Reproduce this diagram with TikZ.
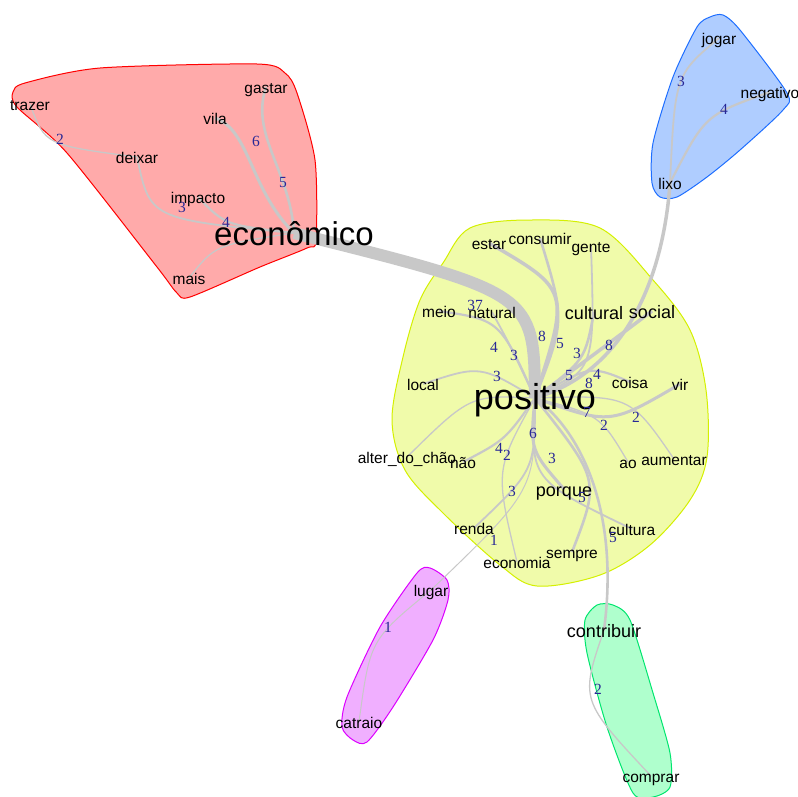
\documentclass[tikz,border=0pt]{standalone}
\usepackage{fontspec}
\setmainfont{Liberation Sans}
\newfontfamily\numfont{Liberation Serif}
\usepackage{tikz}
\usetikzlibrary{calc}
\definecolor{edgegray}{RGB}{200,200,200}
\definecolor{wnum}{RGB}{40,40,150}
\definecolor{hullred}{RGB}{255,170,170}
\definecolor{hullyellow}{RGB}{240,251,170}
\definecolor{lineyellow}{RGB}{212,240,0}
\definecolor{hullblue}{RGB}{175,205,255}
\definecolor{lineblue}{RGB}{30,110,255}
\definecolor{hullviolet}{RGB}{240,175,255}
\definecolor{lineviolet}{RGB}{220,0,255}
\definecolor{hullgreen}{RGB}{175,255,205}
\definecolor{linegreen}{RGB}{0,230,110}
\pgfdeclarelayer{hulls}
\pgfdeclarelayer{edges}
\pgfsetlayers{hulls,edges,main}
\newcommand{\lnk}[4][]{\draw[Edge,#1] (#2.center) .. controls (#4) .. (#3.center)}

\begin{document}
\begin{tikzpicture}[
x=1pt,y=-1pt,
Word/.style={font=\fontsize{15.5}{18}\selectfont,inner sep=0pt,text height=17pt,text depth=3.3pt},
WordMd/.style={font=\fontsize{18}{21}\selectfont,inner sep=0pt,text height=19pt,text depth=3.8pt},
WordBig/.style={font=\fontsize{#1}{#1}\selectfont,inner sep=0pt},
Weight/.style={font=\numfont\fontsize{15.5}{16}\selectfont,text=wnum,inner sep=0pt},
Edge/.style={draw=edgegray,line width=1.3pt},
wt/.style={line width=#1pt},
Hull/.style={line width=1pt}
]
\useasboundingbox (0,0) rectangle (798,796);

% words
\node[Word] (trazer) at (30,104) {trazer};
\node[Word] (deixar) at (137,157) {deixar};
\node[Word] (gastar) at (266,87) {gastar};
\node[Word] (vila) at (215,118) {vila};
\node[Word] (impacto) at (198,197) {impacto};
\node[WordBig=33,text height=32pt,text depth=7pt] (eco) at (294,233) {econômico};
\node[Word] (mais) at (189,278) {mais};

\node[Word] (jogar) at (719,38) {jogar};
\node[Word] (negativo) at (770,92) {negativo};
\node[Word] (lixo) at (670,183) {lixo};

\node[WordBig=36,text height=30pt,text depth=7.6pt] (pos) at (535,398) {positivo};
\node[Word] (estar) at (489,243) {estar};
\node[Word] (consumir) at (540,238) {consumir};
\node[Word] (gente) at (591,246) {gente};
\node[Word] (meio) at (439,311) {meio};
\node[Word] (natural) at (492,312) {natural};
\node[WordMd] (cultural) at (594,312) {cultural};
\node[WordMd] (social) at (652,311) {social};
\node[Word] (local) at (423,384) {local};
\node[Word] (coisa) at (630,382) {coisa};
\node[Word] (vir) at (680,384) {vir};
\node[Word] (alter) at (407,457) {alter\_do\_chão};
\node[Word] (nao) at (463,462) {não};
\node[Word] (ao) at (628,462) {ao};
\node[Word] (aumentar) at (674,459) {aumentar};
\node[WordMd] (porque) at (564,489) {porque};
\node[Word] (renda) at (474,528) {renda};
\node[Word] (cultura) at (632,529) {cultura};
\node[Word] (sempre) at (572,552) {sempre};
\node[Word] (economia) at (517,562) {economia};

\node[Word] (lugar) at (431,590) {lugar};
\node[Word] (catraio) at (359,722) {catraio};
\node[WordMd] (contribuir) at (604,630) {contribuir};
\node[Word] (comprar) at (651,776) {comprar};

% communities
\begin{pgfonlayer}{hulls}
\filldraw[Hull,fill=hullred,draw=red] plot[smooth cycle,tension=0.45] coordinates {(13,92) (25,83) (100,68) (257,64) (285,73) (297,93) (315,160) (316,240) (307,248) (260,267) (190,297) (177,293) (157,267) (67,153) (17,107)};
\filldraw[Hull,fill=hullyellow,draw=lineyellow] plot[smooth cycle,tension=0.55] coordinates {(470,228) (530,220) (600,228) (653,280) (690,330) (706,390) (707,457) (690,500) (650,545) (600,575) (537,586) (500,565) (443,513) (405,470) (392,420) (403,357) (420,300) (443,263)};
\filldraw[Hull,fill=hullblue,draw=lineblue] plot[smooth cycle,tension=0.45] coordinates {(710,17) (723,15) (740,30) (787,93) (783,110) (740,150) (707,177) (677,197) (660,197) (652,183) (653,143) (673,77) (697,27)};
\filldraw[Hull,fill=hullviolet,draw=lineviolet] plot[smooth cycle,tension=0.45] coordinates {(430,568) (447,580) (448,600) (433,640) (393,707) (367,742) (353,740) (342,727) (347,697) (380,627) (417,573)};
\filldraw[Hull,fill=hullgreen,draw=linegreen] plot[smooth cycle,tension=0.45] coordinates {(597,605) (613,605) (630,620) (653,693) (670,753) (670,787) (653,797) (633,793) (607,727) (587,653) (585,620)};
\end{pgfonlayer}

% co-occurrence edges
\begin{pgfonlayer}{edges}
\lnk[wt=1.3]{trazer}{deixar}{45,145};
\lnk[wt=1.8]{deixar}{eco}{150,219};
\lnk[wt=2.2]{impacto}{eco}{225,225};
\lnk[wt=1.3]{mais}{eco}{215,245};
\draw[Edge,wt=2.6] (gastar.center) .. controls (250,135) and (290,170) .. (eco.center);
\draw[Edge,wt=3] (vila.center) .. controls (250,130) and (250,190) .. (eco.center);

\lnk[wt=1.8]{jogar}{lixo}{675,75};
\lnk[wt=2.2]{negativo}{lixo}{705,115};
\draw[Edge,wt=3.5] (lixo.center) .. controls (664,270) and (630,370) .. (pos.center);

\lnk[wt=12]{eco}{pos}{534,293};
\lnk[wt=3.5]{estar}{pos}{570,290};
\lnk[wt=2.6]{consumir}{pos}{565,320};
\lnk[wt=1.8]{gente}{pos}{595,370};
\lnk[wt=2.6]{cultural}{pos}{585,360};
\lnk[wt=3.5]{social}{pos}{600,350};
\lnk[wt=2.2]{coisa}{pos}{590,365};
\lnk[wt=3]{vir}{pos}{610,425};
\lnk[wt=1.3]{ao}{pos}{600,415};
\lnk[wt=1.3]{aumentar}{pos}{630,395};
\lnk[wt=3]{porque}{pos}{530,450};
\lnk[wt=1.8]{cultura}{pos}{530,480};
\lnk[wt=2.6]{sempre}{pos}{600,480};
\draw[Edge,wt=2.6] (pos.center) .. controls (580,430) and (620,510) .. (contribuir.center);
\lnk[wt=1.8]{renda}{pos}{535,470};
\lnk[wt=1]{lugar}{pos}{535,490};
\lnk[wt=1.3]{economia}{pos}{495,470};
\lnk[wt=2.2]{nao}{pos}{505,440};
\lnk[wt=1.3]{alter}{pos}{470,395};
\lnk[wt=1.8]{local}{pos}{480,365};
\lnk[wt=2.2]{meio}{pos}{500,320};
\lnk[wt=1.8]{natural}{pos}{510,345};

\lnk[wt=1]{lugar}{catraio}{370,640};
\lnk[wt=1.3]{contribuir}{comprar}{580,700};
\end{pgfonlayer}

% edge weights
\node[Weight] (w-trazer) at (60,139) {2};
\node[Weight] (w-vila) at (256,141) {6};
\node[Weight] (w-gastar) at (283,182) {5};
\node[Weight] (w-deixar) at (182,207) {3};
\node[Weight] (w-impacto) at (226,222) {4};
\node[Weight] (w-jogar) at (681,81) {3};
\node[Weight] (w-negativo) at (724,109) {4};
\node[Weight] (w-eco) at (475,305) {37};
\node[Weight] (w-estar) at (542,336) {8};
\node[Weight] (w-consumir) at (560,343) {5};
\node[Weight] (w-gente) at (577,353) {3};
\node[Weight] (w-social) at (609,345) {8};
\node[Weight] (w-cultural) at (569,375) {5};
\node[Weight] (w-coisa) at (597,374) {4};
\node[Weight] (w-lixo) at (589,383) {8};
\node[Weight] (w-vir) at (587,412) {7};
\node[Weight] (w-ao) at (604,425) {2};
\node[Weight] (w-aumentar) at (636,417) {2};
\node[Weight] (w-meio) at (494,347) {4};
\node[Weight] (w-natural) at (514,355) {3};
\node[Weight] (w-local) at (497,376) {3};
\node[Weight] (w-porque) at (533,433) {6};
\node[Weight] (w-nao) at (499,448) {4};
\node[Weight] (w-economia) at (507,455) {2};
\node[Weight] (w-cultura) at (552,458) {3};
\node[Weight] (w-renda) at (512,491) {3};
\node[Weight] (w-sempre) at (582,497) {5};
\node[Weight] (w-lugar) at (494,540) {1};
\node[Weight] (w-contribuir) at (613,537) {5};
\node[Weight] (w-catraio) at (388,627) {1};
\node[Weight] (w-comprar) at (598,689) {2};

\end{tikzpicture}
\end{document}
